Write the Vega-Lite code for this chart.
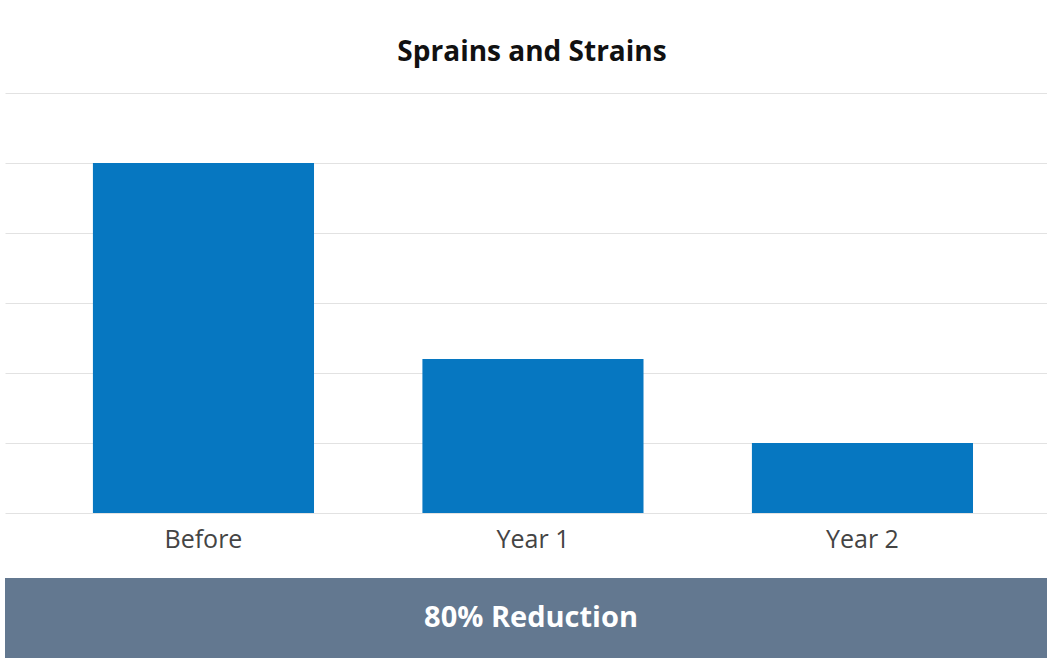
{
  "$schema": "https://vega.github.io/schema/vega-lite/v6.json",
  "background": "white",
  "padding": {"left": 5, "top": 39, "right": 0, "bottom": 0},
  "spacing": 0,
  "config": {"view": {"stroke": null}},
  "vconcat": [
    {
      "width": 1042,
      "height": 420,
      "title": {
        "text": "Sprains and Strains",
        "font": "Open Sans",
        "fontSize": 28,
        "fontWeight": "bold",
        "color": "#111111",
        "anchor": "middle",
        "dx": 6,
        "baseline": "alphabetic",
        "offset": 4
      },
      "data": {
        "values": [
          {"period": "Before", "count": 5},
          {"period": "Year 1", "count": 2.2},
          {"period": "Year 2", "count": 1}
        ]
      },
      "mark": {"type": "bar", "color": "#0677c1"},
      "encoding": {
        "x": {
          "field": "period",
          "type": "nominal",
          "sort": null,
          "scale": {"paddingInner": 0.329, "paddingOuter": 0.2457, "align": 0.543},
          "axis": {
            "title": null,
            "labelAngle": 0,
            "labelFont": "Open Sans",
            "labelFontSize": 25,
            "labelColor": "#444444",
            "labelPadding": 14,
            "ticks": false,
            "domain": false,
            "grid": false,
            "minExtent": 65,
            "maxExtent": 65
          }
        },
        "y": {
          "field": "count",
          "type": "quantitative",
          "scale": {"domain": [0, 6], "nice": false},
          "axis": {
            "title": null,
            "labels": false,
            "domain": false,
            "ticks": false,
            "tickCount": 6,
            "grid": true,
            "gridColor": "#e2e2e2",
            "gridWidth": 1
          }
        }
      }
    },
    {
      "width": 1042,
      "height": 80,
      "view": {"fill": "#637890", "stroke": null},
      "data": {"values": [{"summary": "80% Reduction"}]},
      "mark": {
        "type": "text",
        "font": "Open Sans",
        "fontSize": 29,
        "fontWeight": "bold",
        "color": "white",
        "dx": 5,
        "baseline": "middle"
      },
      "encoding": {"text": {"field": "summary", "type": "nominal"}}
    }
  ]
}
